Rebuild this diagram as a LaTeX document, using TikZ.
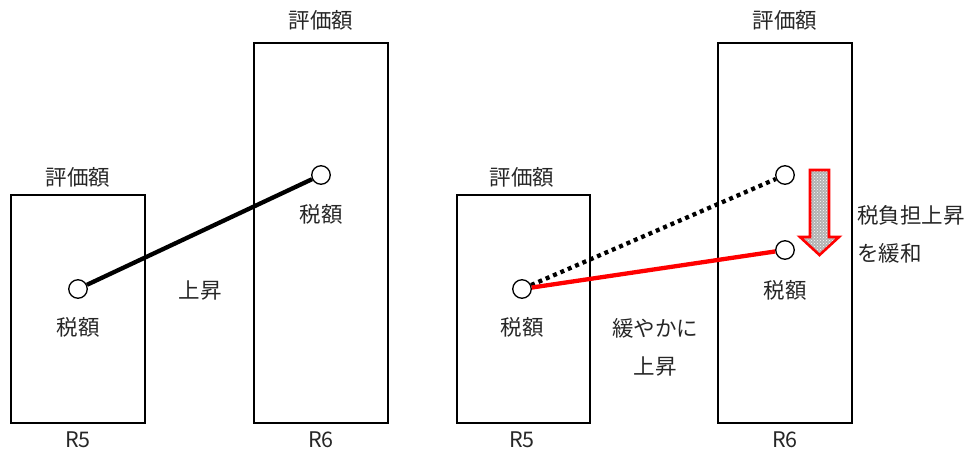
\documentclass[tikz,border=0pt]{standalone}
\usepackage{fontspec}
\setmainfont{Noto Sans CJK JP}
\usetikzlibrary{patterns}

\tikzset{
  lbl/.style={text=black!85, font=\fontsize{21.5}{24}\selectfont, inner sep=0pt},
  taxdot/.style={draw, circle, line width=1.3pt, minimum size=18.5pt, inner sep=0pt},
  valbox/.style={draw, line width=2pt}
}

\begin{document}
\begin{tikzpicture}[x=1pt,y=-1pt]
  \useasboundingbox (0,0) rectangle (970,452);

  % left panel
  \draw[valbox] (11,195) rectangle (145,423);
  \draw[valbox] (254,43) rectangle (388,423);
  \node[lbl] (v5a) at (78,177) {評価額};
  \node[lbl] (v6a) at (321,20) {評価額};
  \node[taxdot] (t5a) at (78,289) {};
  \node[taxdot] (t6a) at (321,175) {};
  \node[lbl] (l5a) at (78,327) {税額};
  \node[lbl] (l6a) at (321,214) {税額};
  \node[lbl] (upa) at (200,291) {上昇};
  \node[lbl] (r5a) at (78,440) {R5};
  \node[lbl] (r6a) at (321,440) {R6};
  \draw[line width=4.3pt] (t5a) -- (t6a);

  % right panel
  \draw[valbox] (457,195) rectangle (590,423);
  \draw[valbox] (718,43) rectangle (852,423);
  \node[lbl] (v5b) at (522,177) {評価額};
  \node[lbl] (v6b) at (785,20) {評価額};
  \node[taxdot] (t5b) at (522,289) {};
  \node[taxdot] (t6b) at (785,175) {};
  \node[taxdot] (t6c) at (785,250) {};
  \node[lbl] (l5b) at (522,327) {税額};
  \node[lbl] (l6b) at (785,290) {税額};
  \node[lbl] (upb1) at (655,328) {緩やかに};
  \node[lbl] (upb2) at (655,367) {上昇};
  \node[lbl, anchor=west] (ease1) at (857,215) {税負担上昇};
  \node[lbl, anchor=west] (ease2) at (857,253) {を緩和};
  \node[lbl] (r5b) at (522,440) {R5};
  \node[lbl] (r6b) at (785,440) {R6};
  \draw[line width=4.3pt, dash pattern=on 4pt off 4pt] (t5b) -- (t6b);
  \draw[red, line width=4.3pt] (t5b) -- (t6c);

  % easing arrow
  \path[fill=gray!60] (810,170) -- (829,170) -- (829,237) -- (839,237)
    -- (819.5,255) -- (800,237) -- (810,237) -- cycle;
  \draw[red, line width=2.6pt, pattern=crosshatch dots, pattern color=white]
    (810,170) -- (829,170) -- (829,237) -- (839,237)
    -- (819.5,255) -- (800,237) -- (810,237) -- cycle;
\end{tikzpicture}
\end{document}
